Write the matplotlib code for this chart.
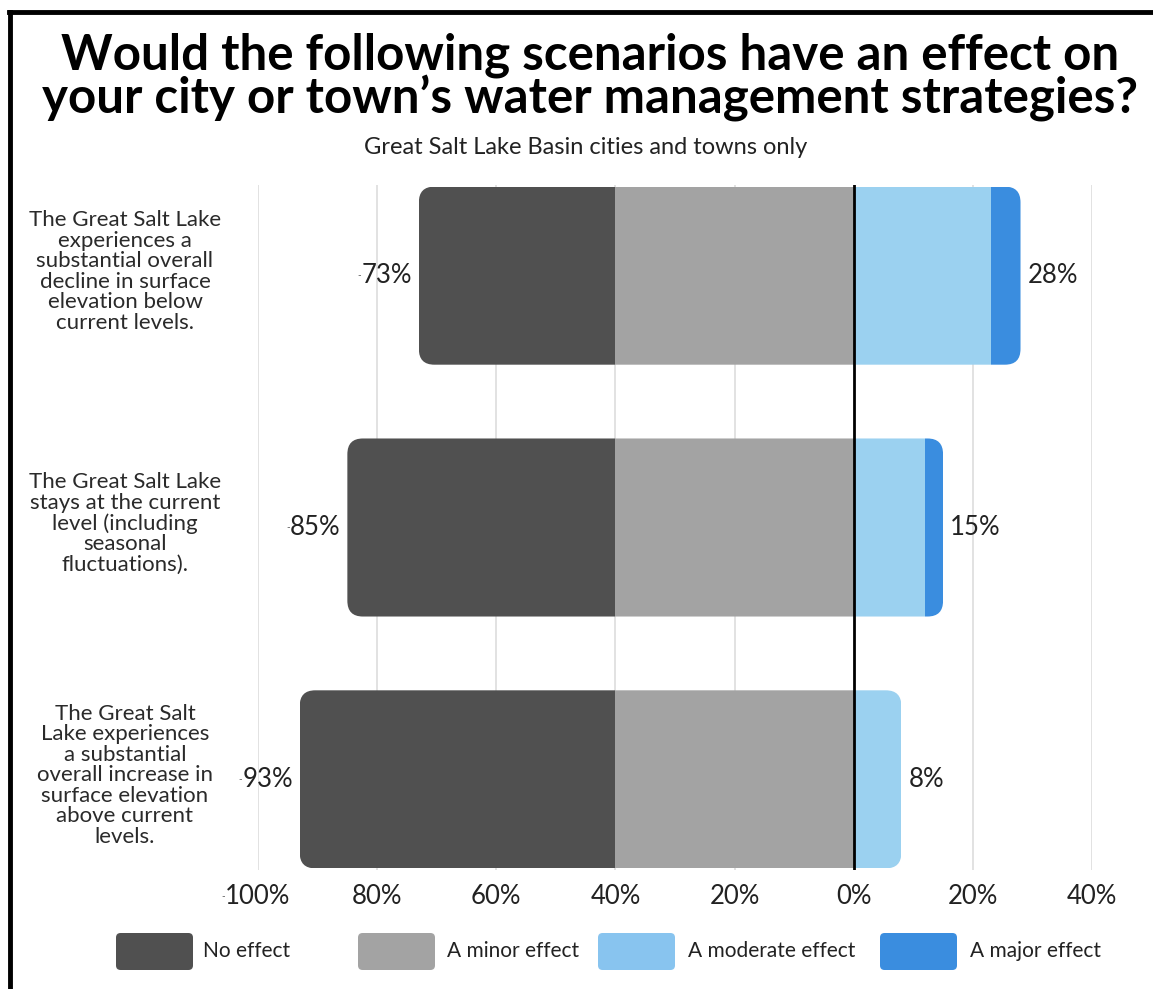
import matplotlib
matplotlib.use("Agg")
import matplotlib.pyplot as plt
from matplotlib.patches import FancyBboxPatch
from matplotlib.lines import Line2D

plt.rcParams['font.family'] = ['Lato', 'DejaVu Sans']

categories = [
    "The Great Salt Lake\nexperiences a\nsubstantial overall\ndecline in surface\nelevation below\ncurrent levels.",
    "The Great Salt Lake\nstays at the current\nlevel (including\nseasonal\nfluctuations).",
    "The Great Salt\nLake experiences\na substantial\noverall increase in\nsurface elevation\nabove current\nlevels.",
]
no_effect = [33, 45, 53]
minor_effect = [40, 40, 40]
moderate_effect = [23, 12, 8]
major_effect = [5, 3, 0]
neg_labels = ["-73%", "-85%", "-93%"]
pos_labels = ["28%", "15%", "8%"]
xticks = [-100, -80, -60, -40, -20, 0, 20, 40]
xtick_labels = ["-100%", "80%", "60%", "40%", "20%", "0%", "20%", "40%"]
series_names = ["No effect", "A minor effect", "A moderate effect", "A major effect"]
colors = ["#505050", "#a3a3a3", "#9bd1f0", "#3a8ddf"]
legend_colors = ["#505050", "#a3a3a3", "#88c4ef", "#3a8ddf"]

W, H = 1153, 989
fig = plt.figure(figsize=(W / 100, H / 100), dpi=100)
fig.patch.set_facecolor("white")

ax = fig.add_axes([258 / W, 1 - 870 / H, (1092 - 258) / W, (870 - 185) / H])
ax.set_xlim(-100, 40)
ax.set_ylim(2.36, -0.36)

bar_h = 0.707
ypos = list(range(len(categories)))
text_col = "#222222"
val_fs = 18.5

small_dash_anchors = []

for i in ypos:
    left_no = -(no_effect[i] + minor_effect[i])
    left_minor = -minor_effect[i]
    total_right = moderate_effect[i] + major_effect[i]
    clip = FancyBboxPatch((left_no, i - bar_h / 2), total_right - left_no, bar_h,
                          boxstyle="round,pad=0,rounding_size=2.6",
                          mutation_aspect=0.024, transform=ax.transData,
                          facecolor="none", edgecolor="none")
    ax.add_patch(clip)
    segs = [
        (left_no, no_effect[i], colors[0]),
        (left_minor, minor_effect[i], colors[1]),
        (0, moderate_effect[i], colors[2]),
        (moderate_effect[i], major_effect[i], colors[3]),
    ]
    for left, width, c in segs:
        if width <= 0:
            continue
        b = ax.barh(i, width, left=left, height=bar_h, color=c, edgecolor="none", zorder=2)
        for p in b:
            p.set_clip_path(clip)
    lab = neg_labels[i]
    t = ax.annotate(lab.lstrip("-"), xy=(left_no, i), xytext=(-5, 0), textcoords="offset points",
                    ha="right", va="center", fontsize=val_fs, color=text_col)
    if lab.startswith("-"):
        small_dash_anchors.append(t)
    ax.annotate(pos_labels[i], xy=(total_right, i), xytext=(5, 0), textcoords="offset points",
                ha="left", va="center", fontsize=val_fs, color=text_col)
    ax.annotate(categories[i], xy=(-100, i), xytext=(-133, 4), textcoords="offset pixels",
                ha="center", va="center", fontsize=16, color="#2a2a2a", linespacing=1.03,
                annotation_clip=False)

for t in xticks:
    if t == 0:
        ax.axvline(0, color="black", lw=2, zorder=4)
    else:
        ax.axvline(t, color="#dddddd", lw=1.2, zorder=0)

ax.set_xticks(xticks)
ax.set_xticklabels([l.lstrip("-") for l in xtick_labels], fontsize=val_fs, color=text_col)
ax.tick_params(axis="x", length=0, pad=10)
ax.set_yticks([])
for s in ax.spines.values():
    s.set_visible(False)

# Title and subtitle
fig.text(590 / W, 1 - 77 / H, "Would the following scenarios have an effect on\nyour city or town\u2019s water management strategies?",
         ha="center", va="center", fontsize=35.5, fontweight="bold", color="black", linespacing=0.92)
fig.text(586 / W, 1 - 148 / H, "Great Salt Lake Basin cities and towns only",
         ha="center", va="center", fontsize=17, color=text_col)

# Legend (manual placement)
leg_box_x = [116, 358, 598, 880]
leg_text_x = [203, 447, 688, 970]
for bx, tx, name, c in zip(leg_box_x, leg_text_x, series_names, legend_colors):
    fig.patches.append(FancyBboxPatch((bx / W, 1 - 970 / H), 77 / W, 37 / H,
                                      boxstyle="round,pad=0,rounding_size=0.004",
                                      mutation_aspect=W / H,
                                      transform=fig.transFigure, facecolor=c, edgecolor="none"))
    fig.text(tx / W, 1 - 951 / H, name, ha="left", va="center", fontsize=15, color=text_col)

# Frame border (left and top)
fig.add_artist(Line2D([10 / W, 10 / W], [0, 1 - 12 / H], transform=fig.transFigure, color="black", lw=3.5))
fig.add_artist(Line2D([8.5 / W, 1], [1 - 12 / H, 1 - 12 / H], transform=fig.transFigure, color="black", lw=3.5))

# tiny dashes before negative labels (as in the original rendering)
fig.canvas.draw()
renderer = fig.canvas.get_renderer()
inv = fig.transFigure.inverted()
dash_targets = list(small_dash_anchors)
for lbl, tl in zip(xtick_labels, ax.get_xticklabels()):
    if lbl.startswith("-"):
        dash_targets.append(tl)
for art in dash_targets:
    bb = art.get_window_extent(renderer)
    x0, y0 = inv.transform((bb.x0, (bb.y0 + bb.y1) / 2))
    fig.text(x0, y0, "-", ha="right", va="center", fontsize=7, color="#555555")

fig.savefig("out.png", dpi=100, facecolor="white")
